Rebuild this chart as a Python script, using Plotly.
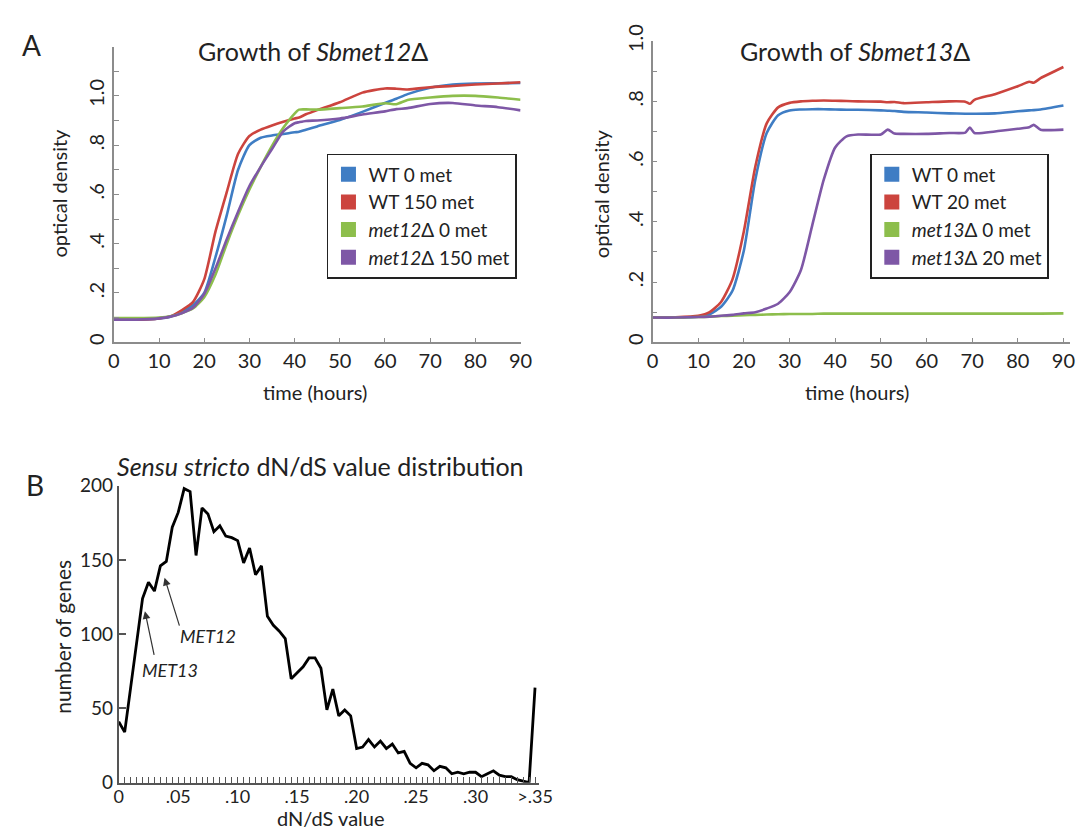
import plotly.graph_objects as go

# ---------------- data ----------------
# Panel A left: Growth of Sbmet12Δ
t_left = [0, 5, 10, 12.5, 15, 17.5, 20, 22.5, 25, 27.5, 30, 32.5, 35, 37.5, 40, 41,
          42.5, 45, 50, 55, 60, 62.5, 65, 70, 75, 80, 85, 90]
wt0_left = [0.092, 0.092, 0.097, 0.104, 0.124, 0.150, 0.200, 0.346, 0.516, 0.700, 0.800, 0.830,
            0.839, 0.845, 0.852, 0.854, 0.862, 0.876, 0.902, 0.935, 0.971, 0.988, 1.007, 1.033,
            1.046, 1.050, 1.051, 1.052]
wt150_left = [0.092, 0.092, 0.097, 0.105, 0.130, 0.163, 0.255, 0.450, 0.610, 0.765, 0.837, 0.863,
              0.880, 0.895, 0.908, 0.912, 0.925, 0.942, 0.974, 1.013, 1.030, 1.029, 1.026, 1.035,
              1.040, 1.046, 1.050, 1.055]
mut0_left = [0.098, 0.098, 0.100, 0.105, 0.118, 0.137, 0.183, 0.275, 0.400, 0.516, 0.620, 0.712,
             0.797, 0.870, 0.928, 0.944, 0.945, 0.944, 0.950, 0.957, 0.970, 0.966, 0.983, 0.993,
             1.000, 1.000, 0.993, 0.984]
mut150_left = [0.092, 0.092, 0.097, 0.104, 0.118, 0.140, 0.196, 0.300, 0.418, 0.530, 0.634, 0.712,
               0.784, 0.856, 0.889, 0.893, 0.898, 0.900, 0.908, 0.924, 0.937, 0.946, 0.950, 0.967,
               0.971, 0.961, 0.954, 0.941]

# Panel A right: Growth of Sbmet13Δ
t_right = [0, 5, 10, 12.5, 15, 17.5, 20, 22.5, 25, 27.5, 30, 32.5, 35, 37.5, 40, 42.5, 45, 50,
           51.5, 53, 55, 60, 65, 68.5, 69.5, 70.5, 75, 80, 82.5, 83.5, 85, 90]
wt0_right = [0.082, 0.082, 0.085, 0.093, 0.118, 0.171, 0.305, 0.540, 0.695, 0.754, 0.770, 0.773,
             0.774, 0.774, 0.773, 0.772, 0.772, 0.770, 0.769, 0.768, 0.765, 0.763, 0.760, 0.759,
             0.759, 0.759, 0.760, 0.767, 0.770, 0.771, 0.773, 0.786]
wt20_right = [0.082, 0.083, 0.088, 0.100, 0.134, 0.209, 0.369, 0.583, 0.727, 0.780, 0.795, 0.800,
              0.802, 0.803, 0.802, 0.801, 0.800, 0.799, 0.797, 0.798, 0.794, 0.797, 0.800, 0.799,
              0.792, 0.805, 0.824, 0.850, 0.865, 0.862, 0.877, 0.914]
mut0_right = [0.082, 0.082, 0.084, 0.085, 0.087, 0.088, 0.090, 0.091, 0.092, 0.093, 0.094, 0.094,
              0.094, 0.095, 0.095, 0.095, 0.095, 0.095, 0.095, 0.095, 0.095, 0.095, 0.095, 0.095,
              0.095, 0.095, 0.095, 0.095, 0.095, 0.095, 0.095, 0.096]
mut20_right = [0.082, 0.082, 0.084, 0.085, 0.088, 0.091, 0.096, 0.100, 0.112, 0.128, 0.166, 0.240,
               0.390, 0.540, 0.647, 0.684, 0.690, 0.690, 0.706, 0.693, 0.692, 0.692, 0.695, 0.696,
               0.713, 0.695, 0.700, 0.709, 0.714, 0.722, 0.706, 0.706]

# Panel B: dN/dS distribution
dnds_bins = [0.000, 0.005, 0.010, 0.015, 0.020, 0.025, 0.030, 0.035, 0.040, 0.045,
             0.050, 0.055, 0.060, 0.065, 0.070, 0.075, 0.080, 0.085, 0.090, 0.095,
             0.100, 0.105, 0.110, 0.115, 0.120, 0.125, 0.130, 0.135, 0.140, 0.145,
             0.150, 0.155, 0.160, 0.165, 0.170, 0.175, 0.180, 0.185, 0.190, 0.195,
             0.200, 0.205, 0.210, 0.215, 0.220, 0.225, 0.230, 0.235, 0.240, 0.245,
             0.250, 0.255, 0.260, 0.265, 0.270, 0.275, 0.280, 0.285, 0.290, 0.295,
             0.300, 0.305, 0.310, 0.315, 0.320, 0.325, 0.330, 0.335, 0.340, 0.345,
             0.350]
gene_counts = [41, 34, 64, 94, 124, 135, 129, 146, 149, 172,
               182, 198, 196, 153, 185, 181, 169, 173, 166, 165,
               163, 148, 158, 140, 146, 112, 106, 102, 97, 70,
               74, 78, 84, 84, 77, 49, 63, 45, 49, 45,
               23, 24, 29, 24, 28, 23, 26, 20, 21, 13,
               10, 13, 12, 8, 11, 10, 6, 7, 6, 7,
               7, 4, 6, 8, 5, 4, 4, 2, 1, 0,
               64]
dnds_tickvals = [0, 0.05, 0.10, 0.15, 0.20, 0.25, 0.30, 0.35]
dnds_ticktext = ["0", ".05", ".10", ".15", ".20", ".25", ".30", ">.35"]
od_tickvals = [0, 0.2, 0.4, 0.6, 0.8, 1.0]
od_ticktext = ["0", ".2", ".4", ".6", ".8", "1.0"]
time_ticks = [0, 10, 20, 30, 40, 50, 60, 70, 80, 90]

labels_left = ["WT 0 met", "WT 150 met", "<i>met12</i>Δ 0 met", "<i>met12</i>Δ 150 met"]
labels_right = ["WT 0 met", "WT 20 met", "<i>met13</i>Δ 0 met", "<i>met13</i>Δ 20 met"]
colors = ["#3f7dc4", "#cc443e", "#8dbe4c", "#7e57a6"]

FONT = "Lato"
W, H = 1091, 833

def px_x(p):
    return p / W

def px_y(p):
    return 1 - p / H

fig = go.Figure()

# left panel curves
for ys, c in zip([wt0_left, wt150_left, mut0_left, mut150_left], colors):
    fig.add_trace(go.Scatter(x=t_left, y=ys, mode="lines",
                             line=dict(color=c, width=2.6, shape="spline", smoothing=0.6),
                             xaxis="x", yaxis="y", showlegend=False, hoverinfo="skip"))
for lab, c in zip(labels_left, colors):
    fig.add_trace(go.Scatter(x=[None], y=[None], mode="markers", name=lab,
                             marker=dict(symbol="square", size=15, color=c),
                             xaxis="x", yaxis="y", legend="legend"))

# right panel curves
for ys, c in zip([wt0_right, wt20_right, mut0_right, mut20_right], colors):
    fig.add_trace(go.Scatter(x=t_right, y=ys, mode="lines",
                             line=dict(color=c, width=2.6, shape="spline", smoothing=0.6),
                             xaxis="x2", yaxis="y2", showlegend=False, hoverinfo="skip"))
for lab, c in zip(labels_right, colors):
    fig.add_trace(go.Scatter(x=[None], y=[None], mode="markers", name=lab,
                             marker=dict(symbol="square", size=15, color=c),
                             xaxis="x2", yaxis="y2", legend="legend2"))

# panel B
fig.add_trace(go.Scatter(x=dnds_bins, y=gene_counts, mode="lines", line=dict(color="black", width=2.8),
                         xaxis="x3", yaxis="y3", showlegend=False, hoverinfo="skip"))

A_AXIS = "#8c8c8c"
tickfont = dict(family=FONT, size=20, color="#222")

common_x = dict(showgrid=False, zeroline=False, showline=True, linecolor=A_AXIS, linewidth=1.5,
                ticks="inside", ticklen=5, tickcolor=A_AXIS, tickfont=tickfont,
                tickvals=time_ticks, fixedrange=True)
common_y = dict(showgrid=False, zeroline=False, showline=True, linecolor=A_AXIS, linewidth=1.5,
                ticks="inside", ticklen=0, tickcolor=A_AXIS, tickfont=tickfont,
                tickvals=od_tickvals, ticktext=od_ticktext, tickangle=-90,
                minor=dict(dtick=0.1, ticks="inside", ticklen=5, tickcolor=A_AXIS), fixedrange=True)

fig.update_layout(
    width=W, height=H, autosize=False,
    margin=dict(l=0, r=0, t=0, b=0),
    paper_bgcolor="white", plot_bgcolor="white",
    font=dict(family=FONT, color="#222"),
    xaxis=dict(domain=[px_x(101.7), px_x(516)], range=[0, 90], anchor="y", **common_x),
    yaxis=dict(domain=[px_y(328.3), px_y(22.3)], range=[0, 1.2], anchor="x", **common_y),
    xaxis2=dict(domain=[px_x(650.5), px_x(1076)], range=[0, 91.5], anchor="y2", **common_x),
    yaxis2=dict(domain=[px_y(328.3), px_y(16.7)], range=[0, 1.0], anchor="x2", **common_y),
    xaxis3=dict(domain=[px_x(106.7), px_x(535)], range=[0, 0.3535], anchor="y3",
                showgrid=False, zeroline=False, showline=True, linecolor="#555", linewidth=2,
                tickvals=dnds_tickvals, ticktext=dnds_ticktext, ticks="inside", ticklen=6,
                tickcolor="#555", tickwidth=1.3, tickfont=dict(family=FONT, size=18, color="#222"),
                ticklabelstandoff=-3,
                minor=dict(dtick=0.005, ticks="inside", ticklen=6, tickcolor="#555", tickwidth=1.3),
                fixedrange=True),
    yaxis3=dict(domain=[px_y(784), px_y(476.7)], range=[0, 200], anchor="x3",
                showgrid=False, zeroline=False, showline=True, linecolor="#555", linewidth=2,
                tickvals=[0, 50, 100, 150, 200], ticks="inside", ticklen=7, tickcolor="#555",
                tickwidth=1.5, tickfont=dict(family=FONT, size=19, color="#222"), fixedrange=True),
    legend=dict(x=px_x(318.5), y=px_y(133), xanchor="left", yanchor="top",
                bgcolor="white", bordercolor="#222", borderwidth=1.8,
                font=dict(family=FONT, size=19, color="#222"), itemwidth=30, tracegroupgap=0),
    legend2=dict(x=px_x(872), y=px_y(133), xanchor="left", yanchor="top",
                 bgcolor="white", bordercolor="#222", borderwidth=1.8,
                 font=dict(family=FONT, size=19, color="#222"), itemwidth=30, tracegroupgap=0),
)

def ann(text, x, y, size, angle=0, xanchor="center", yanchor="middle"):
    fig.add_annotation(text=text, x=px_x(x), y=px_y(y), xref="paper", yref="paper",
                       showarrow=False, textangle=angle, xanchor=xanchor, yanchor=yanchor,
                       borderpad=0, font=dict(family=FONT, size=size, color="#222"))

ann("A", 17.8, 21, 28)
ann("B", 21, 476, 28)
ann("Growth of <i>Sbmet12</i>Δ", 305, 26.7, 25)
ann("Growth of <i>Sbmet13</i>Δ", 857, 26.7, 25)
ann("time (hours)", 306.5, 380, 20)
ann("time (hours)", 858.4, 380, 20)
ann("optical density", 46.2, 174, 20, angle=-90)
ann("optical density", 598, 175, 20, angle=-90)
ann("<i>Sensu stricto</i> dN/dS value distribution", 104, 456, 25, xanchor="left")
ann("dN/dS value", 323, 834, 20, yanchor="bottom")
ann("number of genes", 50, 633, 21, angle=-90)

# MET gene markers in panel B
for name, tip, tail, txt in [("MET13", (0.022, 115.5), (0.030, 85), (0.0432, 76)),
                             ("MET12", (0.0385, 138), (0.0514, 104.7), (0.075, 99))]:
    fig.add_annotation(x=tip[0], y=tip[1], ax=tail[0], ay=tail[1], xref="x3", yref="y3",
                       axref="x3", ayref="y3", text="", showarrow=True, arrowhead=2,
                       arrowsize=1.3, arrowwidth=1.2, arrowcolor="#333", standoff=0)
    fig.add_annotation(x=txt[0], y=txt[1], xref="x3", yref="y3", text="<i>%s</i>" % name,
                       showarrow=False, font=dict(family=FONT, size=18, color="#222"))

fig.write_html("out.html")
